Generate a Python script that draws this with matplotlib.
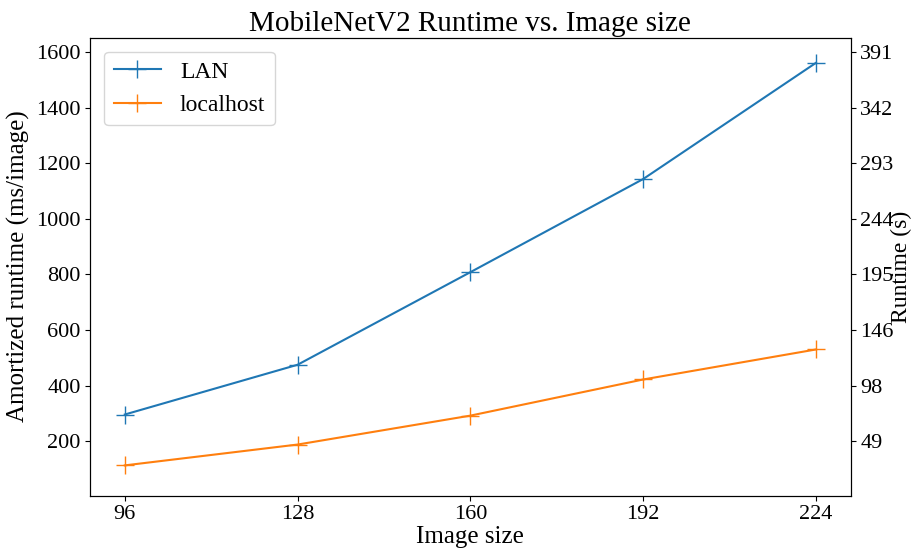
import matplotlib
matplotlib.use("Agg")
import matplotlib.pyplot as plt

plt.rcParams['font.family'] = ['Liberation Serif', 'DejaVu Serif']

# image sizes and amortized runtime (ms/image)
image_sizes = [96, 128, 160, 192, 224]
lan_ms = [296, 475, 808, 1143, 1561]
localhost_ms = [113, 188, 292, 422, 530]

y_ticks = [200, 400, 600, 800, 1000, 1200, 1400, 1600]
seconds_per_ms = 250 / 1024  # right axis scale

fig, ax = plt.subplots(figsize=(9.16, 5.52), dpi=100)
fig.subplots_adjust(left=0.0985, right=0.9285, bottom=0.102, top=0.932)

ax.plot(image_sizes, lan_ms, marker='+', markersize=13, label='LAN')
ax.plot(image_sizes, localhost_ms, marker='+', markersize=13, label='localhost')

ax.set_xticks(image_sizes)
ax.set_ylim(4, 1652)
ax.set_yticks(y_ticks)
ax.tick_params(labelsize=16)
ax.set_xlabel("Image size", fontsize=18, labelpad=1)
ax.set_ylabel("Amortized runtime (ms/image)", fontsize=18, labelpad=4)
ax.set_title("MobileNetV2 Runtime vs. Image size", fontsize=21, pad=5)
ax.legend(loc='upper left', fontsize=17, borderaxespad=0.6)

# right axis shows total runtime in seconds
ax2 = ax.twinx()
ax2.set_ylim(ax.get_ylim())
ax2.set_yticks(y_ticks)
ax2.set_yticklabels([str(round(t * seconds_per_ms)) for t in y_ticks])
ax2.tick_params(labelsize=16)
ax2.set_ylabel("Runtime (s)", fontsize=17, labelpad=-2)

fig.savefig("out.png")
